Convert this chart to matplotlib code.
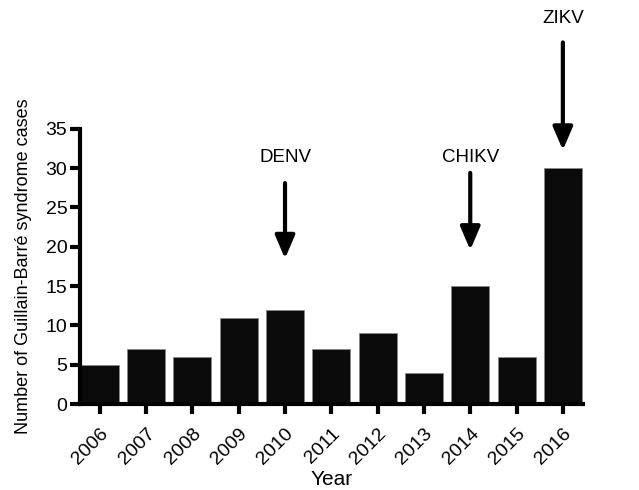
import numpy as np
import matplotlib
matplotlib.use("Agg")
import matplotlib.pyplot as plt

plt.rcParams['font.family'] = ['Liberation Sans', 'DejaVu Sans']

# data
years = ['2006', '2007', '2008', '2009', '2010', '2011',
         '2012', '2013', '2014', '2015', '2016']
cases = [5, 7, 6, 11, 12, 7, 9, 4, 15, 6, 30]

# virus introductions: (year index, label, arrow start, arrow tip, label y)
events = [(4, 'DENV', 28.1, 18.5, 31.3),
          (8, 'CHIKV', 29.4, 19.6, 31.4),
          (10, 'ZIKV', 46.0, 32.3, 49.0)]

fig = plt.figure(figsize=(6.39, 4.90), dpi=100)
ax = fig.add_axes([0.125, 0.1755, 0.787, 0.5615])

x = np.arange(len(years))
ax.bar(x, cases, width=0.82, color='#0a0a0a', edgecolor='#888888', linewidth=0.6)

ax.set_xlim(-0.43, 10.43)
ax.set_ylim(0, 35)
ax.set_yticks(range(0, 36, 5))
ax.set_xticks(x)
ax.set_xticklabels(years, rotation=45, ha='right', rotation_mode='anchor')

for s in ['top', 'right']:
    ax.spines[s].set_visible(False)
for s in ['left', 'bottom']:
    ax.spines[s].set_linewidth(3)
ax.tick_params(axis='both', width=3, length=7, labelsize=14, pad=2)
ax.tick_params(axis='x', pad=8)

ax.set_ylabel('Number of Guillain-Barré syndrome cases', fontsize=13, labelpad=10)
ax.set_xlabel('Year', fontsize=15, labelpad=2)

for i, name, y0, y1, ty in events:
    ax.annotate('', xy=(i, y1), xytext=(i, y0), annotation_clip=False,
                arrowprops=dict(arrowstyle='-|>,head_length=1.4,head_width=0.6',
                                color='black', lw=3, shrinkA=0, shrinkB=0))
    ax.text(i, ty, name, ha='center', va='center', fontsize=13.5, clip_on=False)

fig.savefig('out.png', dpi=100)
